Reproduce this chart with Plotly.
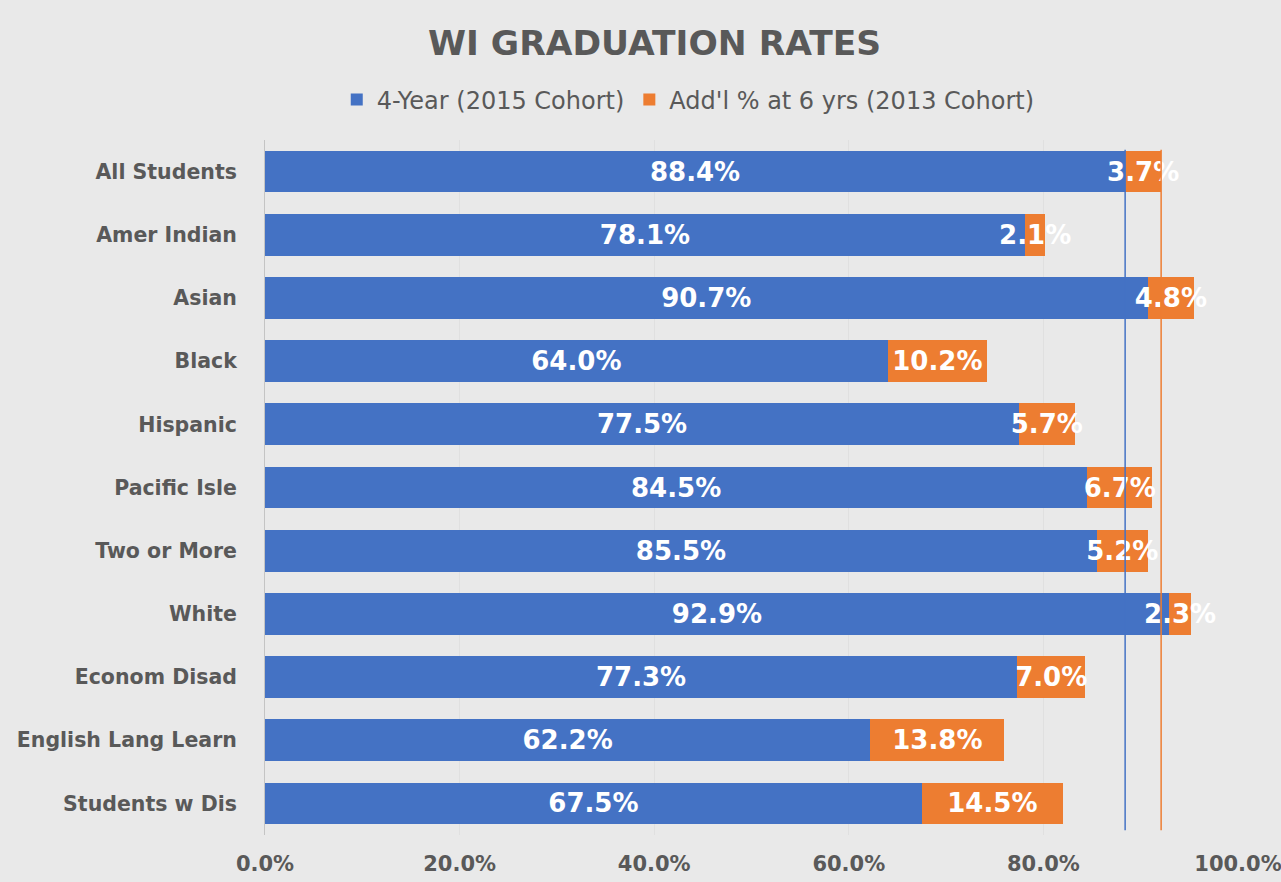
import plotly.graph_objects as go

categories = ["All Students", "Amer Indian", "Asian", "Black", "Hispanic", "Pacific Isle",
              "Two or More", "White", "Econom Disad", "English Lang Learn", "Students w Dis"]
four_year = [88.4, 78.1, 90.7, 64.0, 77.5, 84.5, 85.5, 92.9, 77.3, 62.2, 67.5]
addl_six = [3.7, 2.1, 4.8, 10.2, 5.7, 6.7, 5.2, 2.3, 7.0, 13.8, 14.5]
x_ticks = [0, 20, 40, 60, 80, 100]
x_tick_labels = ["0.0%", "20.0%", "40.0%", "60.0%", "80.0%", "100.0%"]

BLUE = "#4472C4"
ORANGE = "#ED7D31"
GRAY = "#595959"
FONT = "DejaVu Sans"

fig = go.Figure()
fig.add_trace(go.Bar(
    y=categories, x=[v / 100 for v in four_year], orientation="h",
    name="4-Year (2015 Cohort)", marker=dict(color=BLUE, line=dict(width=0)),
    text=[f"{v:.1f}%" for v in four_year], textposition="inside",
    insidetextanchor="middle", textangle=0,
    textfont=dict(family=FONT, size=26, color="white", weight="bold"),
))
fig.add_trace(go.Bar(
    y=categories, x=[v / 100 for v in addl_six], orientation="h",
    name="Add'l % at 6 yrs (2013 Cohort)", marker=dict(color=ORANGE, line=dict(width=0)),
    text=[f"{v:.1f}%" for v in addl_six], textposition="inside",
    insidetextanchor="middle", textangle=0, constraintext="none",
    textfont=dict(family=FONT, size=26, color="white", weight="bold"),
))

# reference lines for All Students
ref_blue = four_year[0] / 100
ref_orange = (four_year[0] + addl_six[0]) / 100
fig.add_shape(type="line", xref="x", yref="paper", x0=ref_blue, x1=ref_blue, y0=0.007, y1=0.986,
              line=dict(color=BLUE, width=1.5), layer="above")
fig.add_shape(type="line", xref="x", yref="paper", x0=ref_orange, x1=ref_orange, y0=0.007, y1=0.986,
              line=dict(color=ORANGE, width=1.5), layer="above")

fig.update_layout(
    width=1281, height=882,
    barmode="stack", bargap=0.34,
    paper_bgcolor="#e9e9e9", plot_bgcolor="#e9e9e9",
    margin=dict(l=265, r=43, t=140, b=47, autoexpand=False),
    title=dict(text="<b>WI GRADUATION RATES</b>", x=0.511, xanchor="center", y=0.951, yanchor="middle",
               font=dict(family=FONT, size=34.5, color=GRAY)),
    legend=dict(orientation="h", x=0.435, xanchor="center", y=1.0576, yanchor="middle",
                font=dict(family=FONT, size=24, color=GRAY), traceorder="normal",
                itemwidth=30, bgcolor="rgba(0,0,0,0)"),
    uniformtext=dict(minsize=26, mode="show"),
    font=dict(family=FONT, color=GRAY),
    xaxis=dict(range=[0, 1], tickvals=[t / 100 for t in x_ticks], ticktext=x_tick_labels,
               showgrid=True, gridcolor="#e0e0e0", gridwidth=1, zeroline=False,
               tickfont=dict(family=FONT, size=21, color=GRAY, weight="bold"),
               ticklabelstandoff=14, ticklabeloverflow="allow", automargin=False, fixedrange=True),
    yaxis=dict(autorange="reversed", showline=True, linecolor="#c4c4c4", linewidth=1,
               tickfont=dict(family=FONT, size=20.5, color=GRAY, weight="bold"),
               ticklabelstandoff=23, showgrid=False, automargin=False),
)

fig.write_html("out.html", config={"displayModeBar": False},
               post_script="document.body.style.margin='0';document.body.style.overflow='hidden';")
